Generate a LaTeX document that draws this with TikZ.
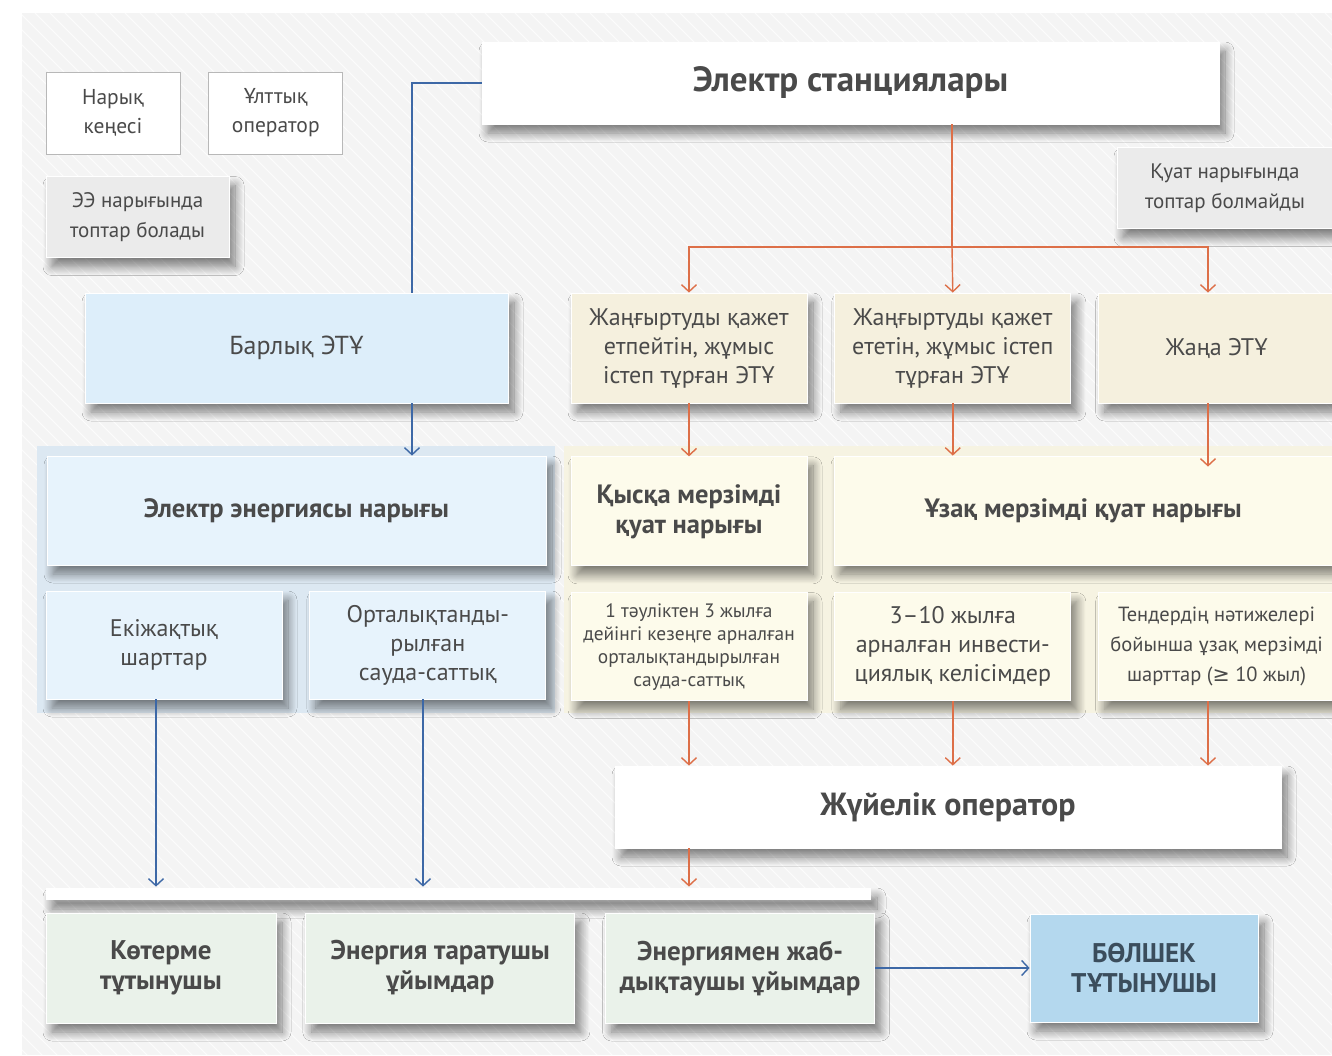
\documentclass[tikz,border=0pt]{standalone}
\usepackage{fontspec}
\setmainfont{PT Sans}
\newfontfamily\symfont{DejaVu Sans}
\usepackage{tikz}
\usetikzlibrary{positioning}
\usetikzlibrary{arrows.meta}
\usetikzlibrary{shadows.blur}
\definecolor{bgfill}{HTML}{F4F4F4}
\definecolor{txtgray}{HTML}{4A4A4A}
\definecolor{bluegrp}{HTML}{DCE8F2}
\definecolor{bluebox}{HTML}{E7F3FC}
\definecolor{allbox}{HTML}{DDEEFA}
\definecolor{creambox}{HTML}{F5F0DE}
\definecolor{creamlight}{HTML}{FDFBEB}
\definecolor{creamgrp}{HTML}{F6F3E2}
\definecolor{greenbox}{HTML}{EAF2EA}
\definecolor{notegray}{HTML}{EBEBEB}
\definecolor{retailbox}{HTML}{B4D8EE}
\definecolor{retailtxt}{HTML}{3B4D5C}
\definecolor{borderg}{HTML}{B8B8B8}
\definecolor{orangeline}{HTML}{DD6F48}
\definecolor{blueline}{HTML}{3D68A6}

\begin{document}
\begin{tikzpicture}[x=1pt,y=-1pt,
		shade/.style={blur shadow={shadow xshift=6pt,shadow yshift=-9pt,shadow blur radius=9pt,shadow blur steps=14,shadow opacity=50}},
		box/.style={draw=white,line width=0.8pt,minimum width=236pt,minimum height=109pt,inner sep=2pt,align=center,text=txtgray,font=\fontsize{24}{29}\selectfont,shade},
		head/.style={font=\bfseries\fontsize{26.5}{30}\selectfont},
		bighead/.style={font=\bfseries\fontsize{27}{30}\selectfont},
		small/.style={font=\fontsize{19.4}{23}\selectfont},
		note/.style={box,fill=notegray,minimum height=81pt,font=\fontsize{21}{30}\selectfont},
		plain/.style={draw=borderg,line width=0.8pt,fill=white,minimum width=134pt,minimum height=82pt,align=center,text=txtgray,font=\fontsize{21.5}{29}\selectfont},
		oline/.style={draw=orangeline,line width=1.4pt},
		bline/.style={draw=blueline,line width=1.4pt},
		arr/.style={-{Straight Barb[length=7pt,width=15pt]}}]
		\useasboundingbox (0,0) rectangle (1332,1055);
		\fill[white] (0,0) rectangle (1332,1055);
		\begin{scope}
			\clip (22,13) rectangle (1332,1055);
			\fill[bgfill] (22,13) rectangle (1332,1055);
			\foreach \s in {-1060,-1045,...,1332}
				\draw[white,line width=0.9pt,opacity=0.8] (\s,13) -- ++(1060,1060);
		\end{scope}
		\fill[bluegrp] (37,446) rectangle (555,713);
		\fill[creamgrp] (564,446) rectangle (1345,713);
		\node[plain] at (113,113) (market) {Нарық\\кеңесі};
		\node[plain,right=28pt of market] (natop) {Ұлттық\\оператор};
		\node[note,minimum width=183pt] at (137.5,217) (eenote) {ЭЭ нарығында\\топтар болады};
		\node[box,fill=white,minimum width=737pt,minimum height=82pt,font=\bfseries\fontsize{35}{40}\selectfont] at (850.5,83) (stations) {Электр станциялары};
		\node[note,minimum width=216pt] at (1225,188) (kuatnote) {Қуат нарығында\\топтар болмайды};
		\node[box,fill=allbox,minimum width=423pt,minimum height=110pt,font=\fontsize{26}{29}\selectfont] at (296.5,348) (allETU) {Барлық ЭТҰ};
		\node[box,fill=creambox,minimum height=110pt] at (689,348) (nomod) {Жаңғыртуды қажет\\етпейтін, жұмыс\\істеп тұрған ЭТҰ};
		\node[box,fill=creambox,minimum height=110pt,right=27pt of nomod] (mod) {Жаңғыртуды қажет\\ететін, жұмыс істеп\\тұрған ЭТҰ};
		\node[box,fill=creambox,minimum height=110pt,right=27pt of mod] (newETU) {Жаңа ЭТҰ};
		\node[box,head,fill=bluebox,minimum width=499pt] at (296.5,510.5) (eemarket) {Электр энергиясы нарығы};
		\node[box,head,fill=creamlight,below=53pt of nomod] (shortcap) {Қысқа мерзімді\\қуат нарығы};
		\node[box,head,fill=creamlight,minimum width=498pt] at (1083,510.5) (longcap) {Ұзақ мерзімді қуат нарығы};
		\node[box,fill=bluebox,minimum height=108pt] at (164,645) (bilateral) {Екіжақтық\\шарттар};
		\node[box,fill=bluebox,minimum height=108pt,right=27pt of bilateral] (central) {Орталықтанды-\\рылған\\сауда-саттық};
		\node[box,small,fill=creamlight,minimum height=108pt,below=26pt of shortcap] (dayahead) {1 тәуліктен 3 жылға\\дейінгі кезеңге арналған\\орталықтандырылған\\сауда-саттық};
		\node[box,fill=creamlight,minimum height=108pt,right=27pt of dayahead] (invest) {3–10 жылға\\арналған инвести-\\циялық келісімдер};
		\node[box,fill=creamlight,minimum height=108pt,right=27pt of invest,font=\fontsize{20.5}{30}\selectfont] (tender) {Тендердің нәтижелері\\бойынша ұзақ мерзімді\\шарттар ({\symfont ≥} 10 жыл)};
		\node[box,fill=white,minimum width=666pt,minimum height=82pt,font=\bfseries\fontsize{32}{38}\selectfont] at (948,807) (sysop) {Жүйелік оператор};
		\path[fill=white,shade] (46,888) rectangle (871,900);
		\node[box,bighead,fill=greenbox,minimum width=230pt,minimum height=110pt] at (161,968) (wholesale) {Көтерме\\тұтынушы};
		\node[box,bighead,fill=greenbox,minimum width=269pt,minimum height=110pt,right=29pt of wholesale] (distrib) {Энергия таратушы\\ұйымдар};
		\node[box,bighead,fill=greenbox,minimum width=269pt,minimum height=110pt,right=30pt of distrib] (supply) {Энергиямен жаб-\\дықтаушы ұйымдар};
		\node[box,bighead,fill=retailbox,text=retailtxt,minimum width=228pt,minimum height=108pt] at (1144,968) (retail) {БӨЛШЕК\\ТҰТЫНУШЫ};
		\coordinate (bjoin) at (412,293);
		\coordinate (obus) at (952,247);
		\coordinate (ncol) at (1208,247);
		\draw[bline] (stations.west) -| (bjoin);
		\draw[bline,arr] (allETU.south -| bjoin) -- (eemarket.north -| bjoin);
		\draw[oline] (stations.south -| obus) -- (obus);
		\draw[oline,arr] (obus) -| (nomod.north);
		\draw[oline,arr] (obus) -- (mod.north);
		\draw[oline,arr] (obus) -| (newETU.north -| ncol);
		\draw[oline,arr] (nomod) -- (shortcap);
		\draw[oline,arr] (mod.south) -- (longcap.north -| mod);
		\draw[oline,arr] (newETU.south -| ncol) -- ([yshift=-11pt]longcap.north -| ncol);
		\draw[oline,arr] (dayahead.south) -- (sysop.north -| dayahead);
		\draw[oline,arr] (invest.south) -- (sysop.north -| invest);
		\draw[oline,arr] (tender.south -| ncol) -- (sysop.north -| ncol);
		\draw[oline,arr] (sysop.south -| dayahead) -- ([yshift=26pt]wholesale.north -| dayahead);
		\draw[bline,arr] (bilateral.south -| 156,0) -- ([yshift=26pt]wholesale.north -| 156,0);
		\draw[bline,arr] (central.south -| 423,0) -- ([yshift=26pt]distrib.north -| 423,0);
		\draw[bline,arr] (supply.east) -- (retail.west);
\end{tikzpicture}
\end{document}
